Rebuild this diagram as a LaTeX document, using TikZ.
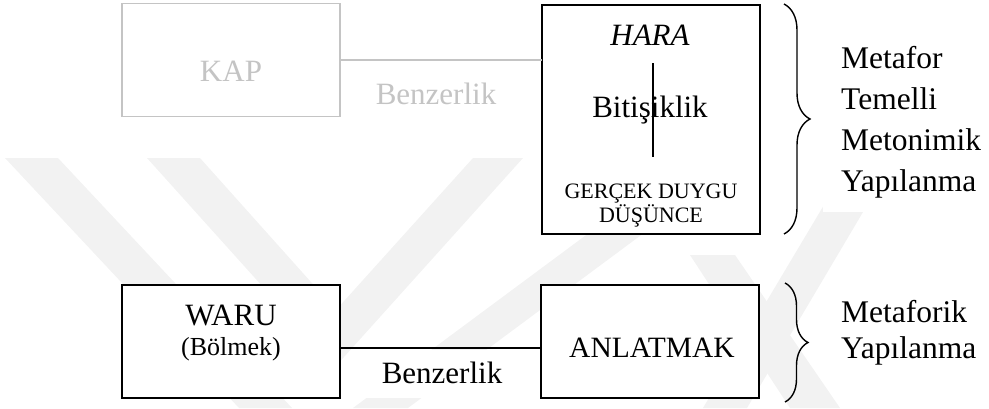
\documentclass[tikz,border=0pt]{standalone}
\usepackage{fontspec}
\setmainfont{Liberation Serif}
\usetikzlibrary{decorations.pathreplacing}

\definecolor{ghostgray}{HTML}{C4C4C4}
\definecolor{wmark}{HTML}{F2F2F2}

\begin{document}
\begin{tikzpicture}[x=1pt,y=-1pt,
  frame/.style={draw=black, line width=1.6pt, fill=white, inner sep=0pt, outer sep=0pt},
  ghostframe/.style={draw=ghostgray, line width=1.5pt, fill=white, inner sep=0pt, outer sep=0pt},
  link/.style={draw=black, line width=1.3pt},
  ghostlink/.style={draw=ghostgray, line width=1.3pt},
  txt/.style={anchor=base, inner sep=0pt, font=\fontsize{31}{36}\selectfont},
  smalltxt/.style={anchor=base, inner sep=0pt, font=\fontsize{22}{25}\selectfont},
  sidetxt/.style={anchor=base west, inner sep=0pt, font=\fontsize{31.5}{36}\selectfont},
  bracket/.style={draw=black, line width=1.4pt, decorate,
    decoration={brace, amplitude=#1}},
]
\useasboundingbox (0,0) rectangle (989,408);

% faint background bands
\fill[wmark] (5,158) -- (58,158) -- (292,408) -- (239,408) -- cycle;
\fill[wmark] (147,158) -- (200,158) -- (336,310) -- (473,158) -- (523,158) -- (335,367) -- cycle;
\fill[wmark] (690,158) -- (745,158) -- (408,408) -- (353,408) -- cycle;
\fill[wmark] (852,158) -- (895,158) -- (747,408) -- (703,408) -- cycle;
\fill[wmark] (690,255) -- (735,255) -- (840,408) -- (790,408) -- cycle;
% white panels behind the side labels
\fill[white] (823,0) rectangle (989,212);
\fill[white] (358,350) rectangle (540,398);

% upper row
\node[ghostframe, minimum width=218pt, minimum height=113pt] (kap) at (231,60) {};
\node[frame, minimum width=218pt, minimum height=229pt] (hara) at (651,119.5) {};
\draw[ghostlink] (kap.east) -- (kap.east -| hara.west);

\node[txt, text=ghostgray] (kaplbl) at (231,81) {KAP};
\node[txt, text=ghostgray] (benz1) at (436,104) {Benzerlik};
\node[txt, font=\fontsize{31}{36}\selectfont\itshape] (haralbl) at (650,45) {HARA};
\node[txt] (bitis) at (650,117) {Bitişiklik};
\coordinate (vtop) at (653,63);
\coordinate (vbot) at (653,157);
\draw[line width=1.3pt] (vtop) -- (vbot);
\node[smalltxt] (gercek) at (651,198) {GERÇEK DUYGU};
\node[smalltxt] (dusunce) at (651,222) {DÜŞÜNCE};

\coordinate (b1top) at (784,4);
\coordinate (b1bot) at (784,234);
\draw[bracket=26pt] (b1top) -- (b1bot);
\node[sidetxt] (s1) at (841,68) {Metafor};
\node[sidetxt] (s2) at (841,109) {Temelli};
\node[sidetxt] (s3) at (841,150) {Metonimik};
\node[sidetxt] (s4) at (841,191) {Yapılanma};

% lower row
\node[frame, minimum width=218pt, minimum height=113pt] (waru) at (231,341.5) {};
\node[frame, minimum width=218pt, minimum height=113pt] (anl) at (650,341.5) {};
\draw[link] ([yshift=-6.5pt]waru.east) -- ([yshift=-6.5pt]anl.west);

\node[txt] (warulbl) at (231,325) {WARU};
\node[anchor=base, inner sep=0pt, font=\fontsize{26}{30}\selectfont] (bolmek) at (231,355) {(Bölmek)};
\node[txt] (benz2) at (442,383) {Benzerlik};
\node[txt, font=\fontsize{29.5}{34}\selectfont] (anllbl) at (652,357) {ANLATMAK};

\coordinate (b2top) at (785,283);
\coordinate (b2bot) at (785,402);
\draw[bracket=23pt] (b2top) -- (b2bot);
\node[sidetxt] (s5) at (841,322) {Metaforik};
\node[sidetxt] (s6) at (841,358) {Yapılanma};
\end{tikzpicture}
\end{document}
